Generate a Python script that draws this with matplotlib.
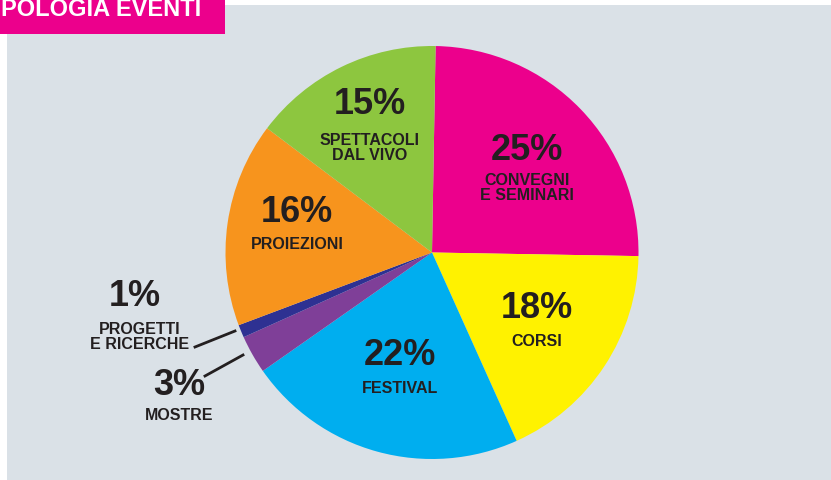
import matplotlib.pyplot as plt
from matplotlib.patches import Rectangle

# Data (clockwise from the top)
categories = ["CONVEGNI\nE SEMINARI", "CORSI", "FESTIVAL", "MOSTRE",
              "PROGETTI\nE RICERCHE", "PROIEZIONI", "SPETTACOLI\nDAL VIVO"]
values = [25, 18, 22, 3, 1, 16, 15]
colors = ["#EC008C", "#FFF200", "#00AEEF", "#7F3F98", "#2E3192", "#F7941D", "#8DC63F"]

# label positions in pixels (x, y from top): percent, name
pct_pos = [(527, 150), (537, 309), (400, 356), (179, 386), (135, 297), (297, 213), (370, 105)]
name_pos = [(527, 188), (537, 341), (400, 389), (179, 416), (140, 337), (297, 245), (370, 148)]
leaders = {3: ((205, 377), (243, 356)), 4: ((195, 348), (235, 332))}

W, H = 831, 481
FONT = ["Liberation Sans", "DejaVu Sans"]
TXT = "#231F20"

fig = plt.figure(figsize=(W / 100, H / 100), dpi=100)
ax = fig.add_axes([0, 0, 1, 1])

# background panel and title box
ax.add_patch(Rectangle((7, 0), W - 7, H - 6, facecolor="#DAE1E7", edgecolor="none", zorder=0))
ax.add_patch(Rectangle((0, H - 35), 225, 35, facecolor="#EC008C", edgecolor="none", zorder=1))
ax.text(1, H - 10, "POLOGIA EVENTI", color="white", fontsize=17, fontweight="bold",
        family=FONT, ha="left", va="center", zorder=2)

ax.pie(values, colors=colors, startangle=89, counterclock=False,
       center=(432, H - 253.5), radius=206.5, frame=True,
       wedgeprops=dict(linewidth=0))
ax.set_xlim(0, W)
ax.set_ylim(0, H)
ax.set_aspect("equal")
ax.axis("off")

for i, v in enumerate(values):
    px, py = pct_pos[i]
    nx, ny = name_pos[i]
    ax.text(px, H - py, f"{v}%", fontsize=26, fontweight="bold", color=TXT,
            family=FONT, ha="center", va="center", zorder=5)
    ax.text(nx, H - ny, categories[i], fontsize=11.5, fontweight="bold", color=TXT,
            family=FONT, ha="center", va="center", linespacing=1.05, zorder=5)

for i, ((x0, y0), (x1, y1)) in leaders.items():
    ax.plot([x0, x1], [H - y0, H - y1], color=TXT, linewidth=2, zorder=5)

fig.savefig("out.png", dpi=100)
